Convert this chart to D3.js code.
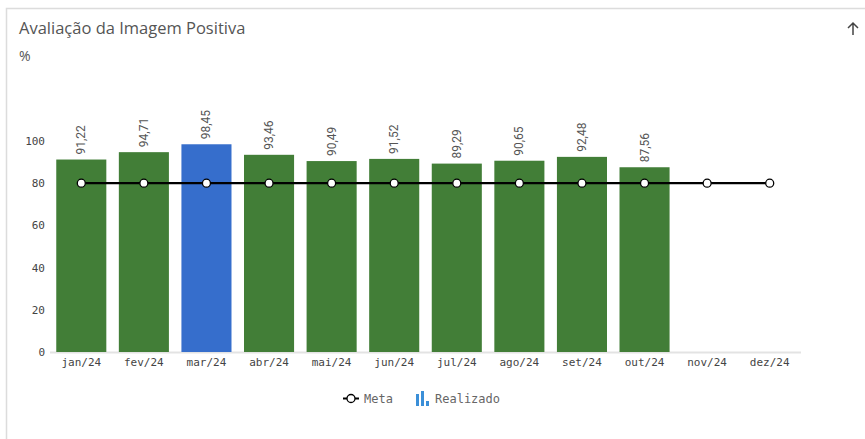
<!DOCTYPE html>
<html><head><meta charset="utf-8">
<script src="https://cdn.jsdelivr.net/npm/d3@7/dist/d3.min.js"></script>
<style>
body{margin:0;background:#fff;}
svg{display:block;}
</style></head>
<body><svg id="c" width="865" height="439"></svg>
<script>
const months = ["jan/24","fev/24","mar/24","abr/24","mai/24","jun/24","jul/24","ago/24","set/24","out/24","nov/24","dez/24"];
const realizado = [91.22,94.71,98.45,93.46,90.49,91.52,89.29,90.65,92.48,87.56,null,null];
const meta = [80,80,80,80,80,80,80,80,80,80,80,80];
const highlight = [false,false,true,false,false,false,false,false,false,false,false,false];
const yTicks = [0,20,40,60,80,100];

const svg = d3.select("#c");
const green = "#427e37", blue = "#366ecc";

// card
svg.append("path").attr("d","M6.5,439 V8.5 H865").attr("fill","none").attr("stroke","#dcdcdc").attr("stroke-width",1.5);
svg.append("text").attr("x",19).attr("y",34).text("Avaliação da Imagem Positiva")
  .attr("font-family","'Open Sans', sans-serif").attr("font-size",16.5).attr("fill","#555");
svg.append("text").attr("x",19).attr("y",61).text("%")
  .attr("font-family","'Open Sans', sans-serif").attr("font-size",14).attr("fill","#555");
// arrow
svg.append("path").attr("d","M853,35 V23 M848,28 L853,23 L858,28").attr("fill","none").attr("stroke","#444").attr("stroke-width",1.5);

const x = d3.scaleBand().domain(months).range([50,801]).paddingInner(0.2).paddingOuter(0.1);
const y = d3.scaleLinear().domain([0,100]).range([352,141]);

const g = svg.append("g");
// axis line
g.append("line").attr("x1",50).attr("x2",801).attr("y1",352.5).attr("y2",352.5).attr("stroke","#e3e3e3").attr("stroke-width",2);

const yAxis = d3.axisLeft(y).tickValues(yTicks).tickSize(0).tickPadding(0);
const ya = g.append("g").attr("transform","translate(45,0)").call(yAxis);
ya.select(".domain").remove();
ya.selectAll("text").attr("font-family","'DejaVu Sans Mono', monospace").attr("font-size",11).attr("fill","#444");

const xAxis = d3.axisBottom(x).tickSize(0).tickPadding(0);
const xa = g.append("g").attr("transform","translate(0,358)").call(xAxis);
xa.select(".domain").remove();
xa.selectAll("text").attr("font-family","'DejaVu Sans Mono', monospace").attr("font-size",11).attr("fill","#444").attr("dy","0.71em");

const data = months.map((m,i)=>({m, v:realizado[i], h:highlight[i], t:meta[i]}));
g.selectAll("rect.bar").data(data.filter(d=>d.v!=null)).join("rect")
  .attr("x",d=>x(d.m)).attr("width",x.bandwidth())
  .attr("y",d=>y(d.v)).attr("height",d=>y(0)-y(d.v))
  .attr("fill",d=>d.h?blue:green);

g.selectAll("text.lbl").data(data.filter(d=>d.v!=null)).join("text")
  .attr("transform",d=>`translate(${x(d.m)+x.bandwidth()/2+4},${y(d.v)-5}) rotate(-90)`)
  .attr("font-family","Roboto, sans-serif").attr("font-size",12).attr("fill","#555")
  .text(d=>d.v.toFixed(2).replace(".",","));

const cx = d=>x(d.m)+x.bandwidth()/2;
g.append("path").datum(data).attr("fill","none").attr("stroke","#000").attr("stroke-width",2.2)
  .attr("d",d3.line().x(cx).y(d=>y(d.t)));
g.selectAll("circle.m").data(data).join("circle")
  .attr("cx",cx).attr("cy",d=>y(d.t)).attr("r",4).attr("fill","#fff").attr("stroke","#000").attr("stroke-width",1.3);

// legend
const lg = svg.append("g");
lg.append("line").attr("x1",343).attr("x2",359).attr("y1",398.5).attr("y2",398.5).attr("stroke","#000").attr("stroke-width",2);
lg.append("circle").attr("cx",351).attr("cy",398.5).attr("r",4).attr("fill","#fff").attr("stroke","#000").attr("stroke-width",1.3);
lg.append("text").attr("x",364).attr("y",403).text("Meta").attr("font-family","'DejaVu Sans Mono', monospace").attr("font-size",12).attr("fill","#666");
const bc="#3b8fd8";
lg.append("rect").attr("x",416).attr("y",394).attr("width",3).attr("height",12).attr("fill",bc);
lg.append("rect").attr("x",421).attr("y",391).attr("width",3).attr("height",15).attr("fill",bc);
lg.append("rect").attr("x",426).attr("y",401).attr("width",3).attr("height",5).attr("fill",bc);
lg.append("text").attr("x",435).attr("y",403).text("Realizado").attr("font-family","'DejaVu Sans Mono', monospace").attr("font-size",12).attr("fill","#666");
</script></body></html>
